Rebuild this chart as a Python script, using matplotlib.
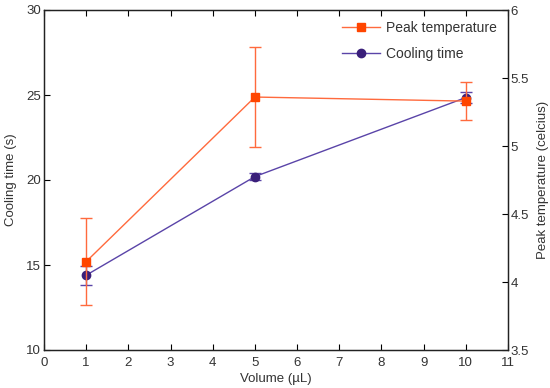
import matplotlib
matplotlib.use("Agg")
import matplotlib.pyplot as plt
from matplotlib.lines import Line2D

plt.rcParams['font.family'] = ['Liberation Sans', 'DejaVu Sans']

volume = [1, 5, 10]
cooling_time = [14.4, 20.2, 24.85]
cooling_err = [0.55, 0.2, 0.3]
peak_temp = [4.15, 5.36, 5.33]
peak_err = [0.32, 0.37, 0.14]

xticks = list(range(0, 12))
left_ticks = [10, 15, 20, 25, 30]
right_ticks = [3.5, 4, 4.5, 5, 5.5, 6]
right_labels = ['3.5', '4', '4.5', '5', '5.5', '6']

orange = '#FF4500'
orange_line = '#FF6A3D'
purple = '#3A1F7A'
purple_line = '#5A44A8'
txt = '#333333'
fs = 9.5

fig = plt.figure(figsize=(5.5, 3.88), dpi=100)
ax = fig.add_axes([44/550, 38/388, (508-44)/550, (350-10)/388])
ax2 = ax.twinx()

ax.errorbar(volume, cooling_time, yerr=cooling_err, color=purple_line, lw=1.0,
            marker='o', ms=6, mfc=purple, mec=purple, ecolor=purple_line,
            capsize=4, elinewidth=1, zorder=3)
ax2.errorbar(volume, peak_temp, yerr=peak_err, color=orange_line, lw=1.0,
             marker='s', ms=6, mfc=orange, mec=orange, ecolor=orange_line,
             capsize=4, elinewidth=1, zorder=2)

ax.set_xlim(0, 11)
ax.set_ylim(10, 30)
ax2.set_ylim(3.5, 6)
ax.set_xticks(xticks)
ax.set_yticks(left_ticks)
ax2.set_yticks(right_ticks)
ax2.set_yticklabels(right_labels)

ax.tick_params(axis='x', direction='in', top=True, length=4, labelsize=fs, labelcolor=txt, pad=5)
ax.tick_params(axis='y', direction='in', right=False, length=4, labelsize=fs, labelcolor=txt, pad=2)
ax2.tick_params(axis='y', direction='in', length=4, labelsize=fs, labelcolor=txt, pad=2)

ax.set_xlabel('Volume (µL)', fontsize=fs, color=txt, labelpad=3)
ax.set_ylabel('Cooling time (s)', fontsize=fs, color=txt, labelpad=7)
ax2.set_ylabel('Peak temperature (celcius)', fontsize=fs, color=txt, labelpad=6)

for a in (ax, ax2):
    for s in a.spines.values():
        s.set_color('#222222')
        s.set_linewidth(0.9)

handles = [
    Line2D([], [], color=orange_line, marker='s', ms=6, mfc=orange, mec=orange, lw=1.0),
    Line2D([], [], color=purple_line, marker='o', ms=6, mfc=purple, mec=purple, lw=1.0),
]
leg = ax.legend(handles, ['Peak temperature', 'Cooling time'], loc='upper right',
                frameon=False, fontsize=10, handlelength=2.8, handletextpad=0.4,
                labelspacing=0.85, borderaxespad=0.4, bbox_to_anchor=(1.0, 1.0),
                labelcolor=txt)

fig.savefig('out.png', dpi=100)
